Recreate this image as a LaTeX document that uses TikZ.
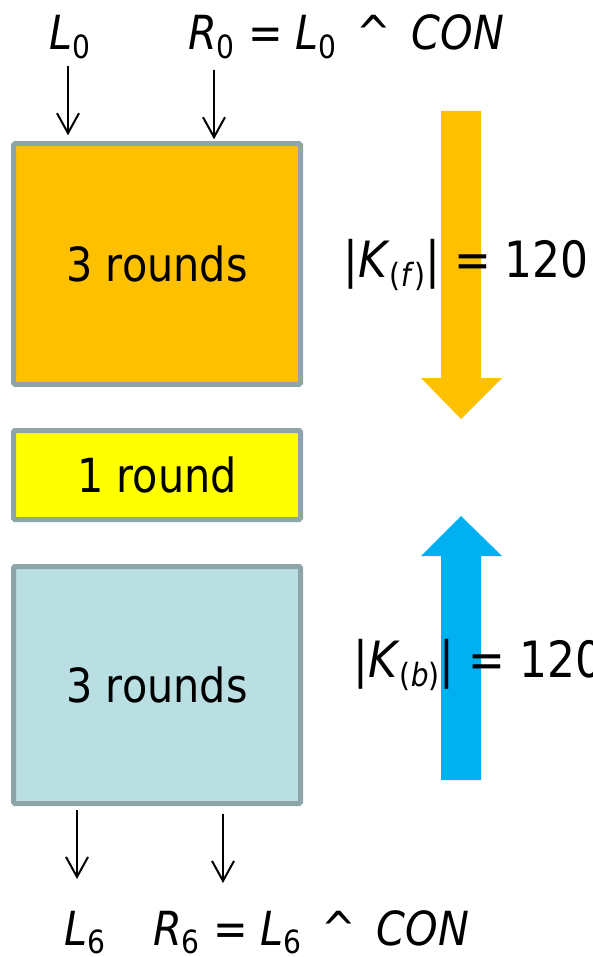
\documentclass[tikz,border=0pt]{standalone}
\usepackage{fontspec}
\setmainfont{DejaVu Sans}[FakeStretch=0.88]
\usepackage{xcolor}
\usetikzlibrary{arrows.meta,positioning}

\definecolor{edgegray}{HTML}{8EA5A8}
\definecolor{fwdorange}{HTML}{FFC000}
\definecolor{midyellow}{HTML}{FFFF00}
\definecolor{bwdcyan}{HTML}{B9DFE3}
\definecolor{bwdblue}{HTML}{00B0F0}
\newcommand{\lowidx}[1]{\raisebox{-0.19em}{\fontsize{32}{32}\selectfont #1}}
\newcommand{\xorcon}{\hspace{7pt} \^{}\hspace{7pt} \textit{CON}}

\begin{document}
\begin{tikzpicture}[x=1pt, y=-1pt,
  roundbox/.style={draw=edgegray, line width=5pt, rounded corners=1.5pt,
    minimum width=287pt, inner sep=0pt, font=\fontsize{47}{54}\selectfont},
  lbl/.style={inner sep=0pt, anchor=base west, font=\fontsize{47}{52}\selectfont},
  klbl/.style={inner sep=0pt, anchor=base west, font=\fontsize{50}{56}\selectfont},
  sig/.style={line width=2pt, -{Straight Barb[length=20pt,width=22pt,line width=2pt]}}]
  \useasboundingbox (0,0) rectangle (592,957);

  % the three blocks
  \node[roundbox, fill=fwdorange, minimum height=240.5pt] (r3f) at (157,264) {3 rounds};
  \node[roundbox, fill=midyellow, minimum height=89pt] (r1) at (157,475) {1 round};
  \node[roundbox, fill=bwdcyan, minimum height=237pt] (r3b) at (157,685) {3 rounds};

  % inputs
  \node[lbl] (l0) at (49,50) {\textit{L}\lowidx{0}};
  \node[lbl] (r0) at (188,50) {\textit{R}\lowidx{0} = \textit{L}\lowidx{0}\xorcon};
  \coordinate (a1) at (68,66);
  \coordinate (a2) at (214,70);
  \draw[sig, shorten >=6pt] (a1) -- (a1 |- r3f.north);
  \draw[sig, shorten >=2pt] (a2) -- (a2 |- r3f.north);

  % outputs
  \coordinate (b1) at (77,879);
  \coordinate (b2) at (223,883);
  \draw[sig, shorten <=3.5pt] (r3b.south -| b1) -- (b1);
  \draw[sig, shorten <=7.5pt] (r3b.south -| b2) -- (b2);
  \node[lbl] (l6) at (64,945) {\textit{L}\lowidx{6}};
  \node[lbl] (r6) at (153,945) {\textit{R}\lowidx{6} = \textit{L}\lowidx{6}\xorcon};

  % forward and backward directions
  \fill[fwdorange] (441,111) -- (481,111) -- (481,378) -- (502,378) -- (461,419)
    -- (421,378) -- (441,378) -- cycle;
  \fill[bwdblue] (441,780) -- (481,780) -- (481,556) -- (502,556) -- (461,516)
    -- (421,556) -- (441,556) -- cycle;
  \node[klbl] (kf) at (343,277) {|\textit{K}\lowidx{(\textit{f})}| = 120};
  \node[klbl] (kb) at (353,677) {|\textit{K}\lowidx{(\textit{b})}| = 120};
\end{tikzpicture}
\end{document}
